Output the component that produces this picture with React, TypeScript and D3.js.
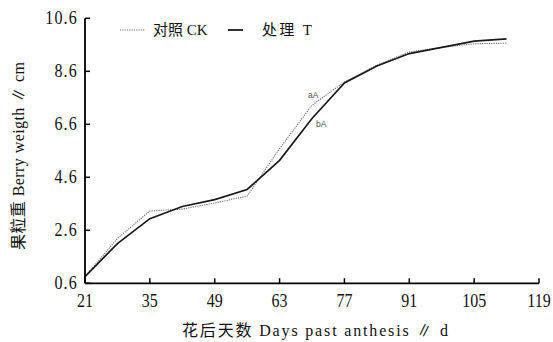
import React from "react";
import * as d3 from "d3";

// Sampling days after anthesis
const days = [21, 28, 35, 42, 49, 56, 63, 70, 77, 84, 91, 98, 105, 112];
// Berry weight, control (CK)
const ckValues = [0.85, 2.29, 3.33, 3.4, 3.63, 3.89, 5.68, 7.32, 8.2, 8.83, 9.33, 9.5, 9.64, 9.66];
// Berry weight, treatment (T)
const tValues = [0.85, 2.1, 3.04, 3.5, 3.76, 4.14, 5.24, 6.82, 8.16, 8.8, 9.27, 9.5, 9.74, 9.82];

const xTicks = [21, 35, 49, 63, 77, 91, 105, 119];
const yTicks = [0.6, 2.6, 4.6, 6.6, 8.6, 10.6];

const seriesNames = ["对照 CK", "处理 T"];
const significance = ["aA", "bA"];
const xTitle = "花后天数 Days past anthesis ∥ d";
const yTitle = "果粒重 Berry weigth ∥ cm";

const W = 553;
const H = 342;
const FONT = "'Liberation Serif', 'Noto Sans CJK SC', serif";

export default function App() {
  const x = d3.scaleLinear().domain([21, 119]).range([85, 539]);
  const y = d3.scaleLinear().domain([0.6, 10.6]).range([283.3, 18.3]);

  const line = d3
    .line<number>()
    .x((_, i) => x(days[i]))
    .y((v) => y(v));

  const fmt = d3.format(".1f");
  const x0 = x(21);
  const y0 = y(0.6);

  return (
    <svg
      width={W}
      height={H}
      style={{ position: "absolute", left: 0, top: 0, background: "#fff" }}
      fontFamily={FONT}
    >
      <rect width={W} height={H} fill="#fff" />

      {/* series */}
      <path d={line(ckValues) || ""} fill="none" stroke="#7a7a7a" strokeWidth={1.1} strokeDasharray="1.3,1" />
      <path d={line(tValues) || ""} fill="none" stroke="#1a1a1a" strokeWidth={1.7} />

      {/* significance marks at day 70 */}
      <text x={x(70) - 4} y={y(ckValues[7]) - 7} fontFamily="'Liberation Sans', Arial, sans-serif" fontSize={8.5} fill="#555">
        {significance[0]}
      </text>
      <text x={x(70) + 4} y={y(tValues[7]) + 9} fontFamily="'Liberation Sans', Arial, sans-serif" fontSize={8.5} fill="#555">
        {significance[1]}
      </text>

      {/* axes */}
      <line x1={x0} y1={y(10.6)} x2={x0} y2={y0} stroke="#000" strokeWidth={1.8} />
      <line x1={x0} y1={y0} x2={x(119)} y2={y0} stroke="#000" strokeWidth={1.8} />

      {yTicks.map((t) => (
        <g key={"y" + t}>
          <line x1={x0} x2={x0 + 5} y1={y(t)} y2={y(t)} stroke="#000" strokeWidth={1.5} />
          <text
            transform={`translate(${x0 - 7},${y(t) + 5.5}) scale(1,1.2)`}
            textAnchor="end"
            fontSize={16}
            letterSpacing={1.2}
            fill="#111"
          >
            {fmt(t)}
          </text>
        </g>
      ))}

      {xTicks.map((t) => (
        <g key={"x" + t}>
          <line x1={x(t)} x2={x(t)} y1={y0} y2={y0 - 5} stroke="#000" strokeWidth={1.5} />
          <text
            transform={`translate(${x(t)},${307}) scale(1,1.2)`}
            textAnchor="middle"
            fontSize={16}
            fill="#111"
          >
            {t}
          </text>
        </g>
      ))}

      {/* axis titles */}
      <text x={182} y={336} fontSize={16} textLength={266} lengthAdjust="spacing" fill="#111">
        {xTitle}
      </text>
      <text
        transform={`translate(24,250) rotate(-90)`}
        fontSize={16}
        textLength={188}
        lengthAdjust="spacing"
        fill="#111"
      >
        {yTitle}
      </text>

      {/* legend */}
      <line x1={120} x2={145} y1={30} y2={30} stroke="#7a7a7a" strokeWidth={1.1} strokeDasharray="1.3,1" />
      <text x={153} y={35} fontSize={15} fill="#111">
        {seriesNames[0]}
      </text>
      <line x1={228} x2={243} y1={30} y2={30} stroke="#1a1a1a" strokeWidth={1.8} />
      <text x={262} y={35} fontSize={15} textLength={50} lengthAdjust="spacing" fill="#111">
        {seriesNames[1]}
      </text>
    </svg>
  );
}
